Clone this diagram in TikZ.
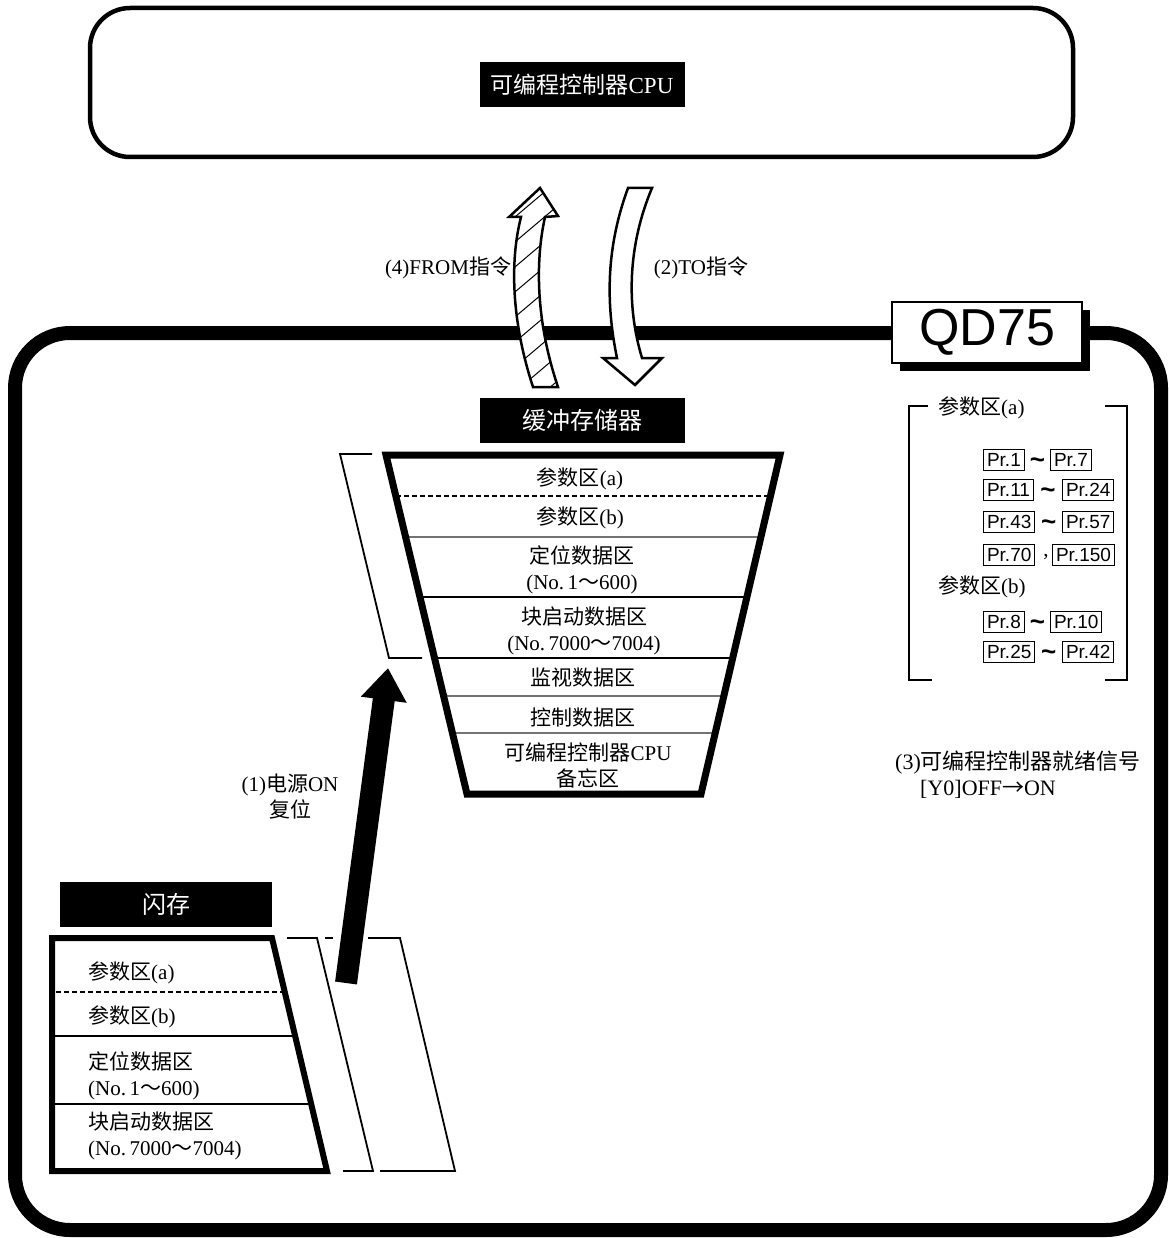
\documentclass[tikz,border=0pt]{standalone}
\usepackage{fontspec}
\setmainfont{Liberation Serif}
\newfontfamily\cjk{Noto Sans CJK SC}
\newfontfamily\arialfont{Liberation Sans}
\newcommand\zh[1]{{\cjk #1}}
\usetikzlibrary{arrows.meta,positioning,calc}

\begin{document}
\begin{tikzpicture}[x=1pt, y=-1pt,
    tag/.style={fill=black, text=white, inner sep=0pt, minimum width=205pt,
      minimum height=45pt, font=\fontsize{24}{28}\selectfont},
    lbl/.style={inner sep=0pt, align=center, font=\fontsize{21}{26}\selectfont},
    prbox/.style={draw, line width=1pt, inner xsep=3.5pt, inner ysep=0pt,
      minimum height=21pt, font=\fontsize{19}{21}\selectfont\arialfont},
    thinline/.style={line width=1.8pt},
    sep/.style={line width=2pt},
    bigarrow/.style={line width=22pt, -{Triangle[length=32pt,width=44pt]}}
  ]
  \useasboundingbox (0,0) rectangle (1168,1238);

  % PLC CPU
  \draw[line width=4.5pt, rounded corners=40pt] (90,8) rectangle (1073,157);
  \node[tag, font=\fontsize{23}{27}\selectfont] (cpu) at (582,84.5) {\zh{可编程控制器}CPU};

  % QD75 frame
  \draw[line width=14pt, rounded corners=55pt] (15,333) rectangle (1161,1230);
  \fill (900,310) rectangle (1090,371);
  \node[draw, line width=1.5pt, fill=white, minimum width=190pt, minimum height=61pt,
    inner sep=0pt, font=\fontsize{52}{56}\selectfont\arialfont] (qd) at (987,332.5) {QD75};

  % FROM / TO arrows
  \def\fromshape{(533,387) .. controls (511,320) and (510,260) .. (521,217)
    -- (509,217) -- (540,188) -- (558,216) -- (545,217)
    .. controls (535,262) and (536,322) .. (558,387) -- cycle}
  \def\toshape{(628,188) -- (652,188) .. controls (628,245) and (626,305) .. (642,358)
    -- (662,358) -- (635,385) -- (603,358) -- (617,358)
    .. controls (605,300) and (607,245) .. (628,188) -- cycle}
  \fill[white] \fromshape;
  \begin{scope}
    \clip \fromshape;
    \foreach \k in {0,...,11}
      \draw[line width=1pt] (470,455-\k*25) -- ++(130,-110);
  \end{scope}
  \draw[line width=2.5pt] \fromshape;
  \draw[line width=2.5pt, fill=white] \toshape;
  \node[lbl] (fromlbl) at (448,268) {(4)FROM\zh{指令}};
  \node[lbl] (tolbl) at (701,268) {(2)TO\zh{指令}};

  % buffer memory
  \node[tag] (buf) at (582.5,420) {\zh{缓冲存储器}};
  \def\bufshape{(386,455) -- (780,455) -- (701,794) -- (467,794) -- cycle}
  \begin{scope}
    \clip \bufshape;
    \draw[sep, dash pattern=on 5pt off 3pt] (380,496) -- (790,496);
    \draw[sep, black!55] (380,537) -- (790,537);
    \draw[sep] (380,597) -- (790,597);
    \draw[sep] (380,658) -- (790,658);
    \draw[sep, black!55] (380,696) -- (790,696);
    \draw[sep, black!55] (380,733) -- (790,733);
  \end{scope}
  \draw[line width=7pt] \bufshape;
  \node[lbl] (bpa) at (580,479) {\zh{参数区}(a)};
  \node[lbl] (bpb) at (580,518) {\zh{参数区}(b)};
  \node[lbl] (bpos) at (582,570) {\zh{定位数据区}\\(No.\,1\zh{～}600)};
  \node[lbl] (bblk) at (584,631) {\zh{块启动数据区}\\(No.\,7000\zh{～}7004)};
  \node[lbl] (bmon) at (583,678) {\zh{监视数据区}};
  \node[lbl] (bctl) at (583,718) {\zh{控制数据区}};
  \node[lbl] (bmem) at (588,765) {\zh{可编程控制器}CPU\\\zh{备忘区}};
  \draw[thinline] (372,454) -- (340,454) -- (389,658) -- (422,658);

  % flash ROM
  \node[tag, minimum width=212pt] (flash) at (166,904.5) {\zh{闪存}};
  \def\flashshape{(52,938) -- (272,938) -- (327,1171) -- (52,1171) -- cycle}
  \begin{scope}
    \clip \flashshape;
    \draw[sep, dash pattern=on 5pt off 3pt] (40,992) -- (340,992);
    \draw[sep] (40,1036) -- (340,1036);
    \draw[sep] (40,1104) -- (340,1104);
  \end{scope}
  \draw[line width=6pt] \flashshape;
  \node[lbl, anchor=west, align=left] (fpa) at (88,973) {\zh{参数区}(a)};
  \node[lbl, anchor=west, align=left] (fpb) at (88,1017) {\zh{参数区}(b)};
  \node[lbl, anchor=west, align=left] (fpos) at (88,1076) {\zh{定位数据区}\\(No.\,1\zh{～}600)};
  \node[lbl, anchor=west, align=left] (fblk) at (88,1136) {\zh{块启动数据区}\\(No.\,7000\zh{～}7004)};
  \draw[thinline] (287,938) -- (317,938) -- (373,1171) -- (343,1171);
  \draw[thinline] (325,938) -- (333,938);
  \draw[thinline] (368,938) -- (400,938) -- (455,1171) -- (380,1171);

  % (1) power on
  \coordinate (flashtip) at (346,983);
  \coordinate (buftip) at (388,668);
  \draw[bigarrow] (flashtip) -- (buftip);
  \node[lbl] (pwr) at (290,797) {(1)\zh{电源}ON\\\zh{复位}};

  % parameter list
  \draw[thinline] (928,406) -- (909,406) -- (909,680) -- (932,680);
  \draw[thinline] (1105,406) -- (1127,406) -- (1127,680) -- (1105,680);
  \node[lbl, anchor=west] (lsta) at (938,408) {\zh{参数区}(a)};
  \node[lbl, anchor=west] (lstb) at (938,587) {\zh{参数区}(b)};
  \foreach \n/\y/\a/\b/\bx in {1/460/1/7/1050, 2/490/11/24/1062, 3/522/43/57/1062,
      5/622/8/10/1050, 6/652/25/42/1062} {
    \node[prbox, anchor=west] (pl\n) at (983,\y) {Pr.\a};
    \node[prbox, anchor=west] (pr\n) at (\bx,\y) {Pr.\b};
    \node[inner sep=0pt, font=\fontsize{26}{26}\selectfont\arialfont\bfseries]
      (tl\n) at ($(pl\n.east)!0.5!(pr\n.west)+(0,3)$) {\textasciitilde};
  }
  \node[prbox, anchor=west] (pl4) at (983,555) {Pr.70};
  \node[prbox, anchor=west] (pr4) at (1052,555) {Pr.150};
  \node[lbl] (cm4) at (1046,557) {,};

  % (3) ready signal
  \node[lbl, font=\fontsize{22}{26}\selectfont, anchor=west, align=left] (rdy) at (895,775)
    {(3)\zh{可编程控制器就绪信号}\\\hspace*{25pt}[Y0]OFF\zh{→}ON};
\end{tikzpicture}
\end{document}
